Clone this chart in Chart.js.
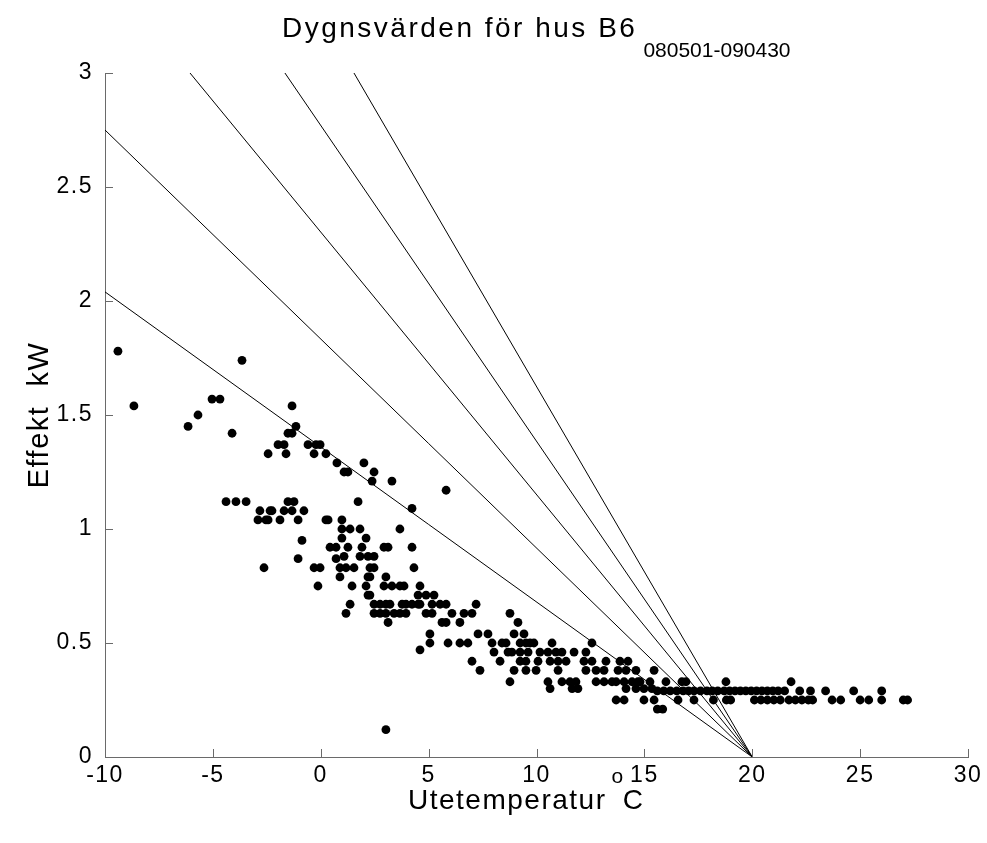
<!DOCTYPE html>
<html><head><meta charset="utf-8">
<script src="https://cdn.jsdelivr.net/npm/chart.js@4"></script>
<style>html,body{margin:0;padding:0;background:#fff}#wrap{width:987px;height:843px}</style>
</head><body><div id="wrap"><canvas id="c" width="987" height="843"></canvas></div>
<script>
const titleMain = 'Dygnsvärden för hus B6';
const titleSub = '080501-090430';
const xLabelMain = 'Utetemperatur';
const xLabelSup = 'o';
const xLabelUnit = 'C';
const yLabel = 'Effekt  kW';

const xTicks = [-10, -5, 0, 5, 10, 15, 20, 25, 30];
const yTicks = [0, 0.5, 1, 1.5, 2, 2.5, 3];

// daily mean outdoor temperature (°C)
const tempValues = [
 -9.40,-3.65,-8.66,-5.04,-4.67,-5.69,-6.15,-4.11,-1.33,-1.15,-1.52,-1.33,-1.98,-1.70,-2.44,-1.61,-0.59,-0.22,-0.03,-0.31,
 0.24,0.75,-4.39,-3.93,-3.46,-2.82,-2.35,-2.26,-1.70,-1.33,-0.78,-1.52,-1.24,-2.91,-2.54,-2.44,-1.89,-1.05,0.24,0.34,
 -0.87,-1.05,-2.63,-0.31,-0.03,0.43,0.71,0.71,1.08,1.26,2.00,2.47,2.38,3.30,5.81,1.73,4.23,0.98,0.98,1.36,
 1.82,3.67,0.98,2.10,1.26,1.91,2.93,3.12,4.23,1.08,1.82,2.19,2.47,0.89,1.17,1.54,2.28,2.47,4.32,0.89,
 2.19,2.28,3.02,-0.13,1.45,2.10,2.93,3.30,3.67,3.86,4.60,2.19,2.28,4.51,4.88,5.25,1.36,2.47,2.75,3.02,
 3.21,3.77,3.95,4.23,4.51,4.60,5.16,5.53,5.81,7.20,1.17,2.47,2.75,3.02,3.40,3.67,3.95,4.88,5.16,6.08,
 6.64,7.01,3.12,5.62,5.81,6.45,5.06,7.29,5.06,5.90,6.45,6.82,4.60,3.02,8.77,9.14,7.75,8.96,9.42,7.94,
 8.40,8.59,9.24,9.51,9.70,9.88,10.72,12.57,8.03,8.68,8.86,9.24,9.61,10.16,10.53,10.90,11.18,11.74,12.29,7.01,
 8.31,9.24,9.51,10.07,10.63,11.00,11.37,12.20,12.57,13.22,13.87,14.24,7.38,8.96,9.51,9.98,11.00,12.29,12.76,13.13,
 13.78,14.15,14.61,15.45,8.77,10.53,11.18,11.55,11.83,12.76,13.13,13.50,14.06,14.43,14.80,15.26,10.63,11.65,11.92,14.15,
 14.61,14.98,15.35,13.69,14.06,14.98,15.45,15.60,15.85,13.69,14.70,16.00,16.74,16.93,18.78,21.80,
 15.60,15.90,16.20,16.50,16.80,17.05,17.30,17.60,17.90,18.15,18.40,18.70,18.95,19.20,19.45,19.70,19.95,20.20,20.45,20.70,
 20.95,21.20,21.50,22.20,22.70,23.40,24.70,26.00,
 16.56,17.30,18.20,18.80,19.00,20.10,20.40,20.70,21.00,21.30,21.70,22.00,22.30,22.60,22.80,23.70,24.10,25.00,25.40,26.00,
 27.00,27.20
];
// daily mean heating power (kW)
const powerValues = [
 1.78,1.74,1.54,1.57,1.57,1.50,1.45,1.42,1.54,1.45,1.42,1.42,1.37,1.37,1.33,1.33,1.37,1.37,1.37,1.33,
 1.33,1.29,1.12,1.12,1.12,1.08,1.08,1.08,1.08,1.08,1.08,1.12,1.12,1.04,1.04,1.04,1.04,1.04,1.04,1.04,
 0.95,0.87,0.83,0.83,0.83,0.92,0.92,0.87,1.25,1.25,1.29,1.25,1.21,1.21,1.17,1.12,1.09,1.04,1.00,1.00,
 1.00,1.00,0.96,0.96,0.92,0.92,0.92,0.92,0.92,0.88,0.88,0.88,0.88,0.83,0.83,0.83,0.83,0.83,0.83,0.79,
 0.79,0.79,0.79,0.75,0.75,0.75,0.75,0.75,0.75,0.75,0.75,0.71,0.71,0.71,0.71,0.71,0.67,0.67,0.67,0.67,
 0.67,0.67,0.67,0.67,0.67,0.67,0.67,0.67,0.67,0.67,0.63,0.63,0.63,0.63,0.63,0.63,0.63,0.63,0.63,0.63,
 0.63,0.63,0.59,0.59,0.59,0.59,0.54,0.54,0.50,0.50,0.50,0.50,0.47,0.12,0.63,0.59,0.54,0.54,0.54,0.50,
 0.50,0.50,0.50,0.50,0.50,0.50,0.50,0.50,0.46,0.46,0.46,0.46,0.46,0.46,0.46,0.46,0.46,0.46,0.46,0.42,
 0.42,0.42,0.42,0.42,0.42,0.42,0.42,0.42,0.42,0.42,0.42,0.42,0.38,0.38,0.38,0.38,0.38,0.38,0.38,0.38,
 0.38,0.38,0.38,0.38,0.33,0.33,0.33,0.33,0.33,0.33,0.33,0.33,0.33,0.33,0.33,0.33,0.30,0.30,0.30,0.30,
 0.30,0.30,0.30,0.25,0.25,0.25,0.25,0.21,0.21,0.33,0.33,0.33,0.33,0.33,0.33,0.33,
 0.29,0.29,0.29,0.29,0.29,0.29,0.29,0.29,0.29,0.29,0.29,0.29,0.29,0.29,0.29,0.29,0.29,0.29,0.29,0.29,
 0.29,0.29,0.29,0.29,0.29,0.29,0.29,0.29,
 0.25,0.25,0.25,0.25,0.25,0.25,0.25,0.25,0.25,0.25,0.25,0.25,0.25,0.25,0.25,0.25,0.25,0.25,0.25,0.25,
 0.25,0.25
];

// reference lines: all meet at (20 °C, 0 kW)
const lineStartTemp = [-10, -10, -6.06, -1.66, 1.54];
const lineStartPower = [2.04, 2.75, 3, 3, 3];
const lineEndTemp = [20, 20, 20, 20, 20];
const lineEndPower = [0, 0, 0, 0, 0];

const FONT = '"Liberation Sans", Arial, Helvetica, sans-serif';

const scatterData = tempValues.map((t, i) => ({x: t, y: powerValues[i]}));
const lineDatasets = lineStartTemp.map((t, i) => ({
  type: 'line',
  data: [{x: t, y: lineStartPower[i]}, {x: lineEndTemp[i], y: lineEndPower[i]}],
  borderColor: '#000',
  borderWidth: 1,
  pointRadius: 0,
  fill: false,
  tension: 0,
  order: 2
}));

const spacing = {
  id: 'spacing',
  beforeDraw(chart) { chart.ctx.letterSpacing = '1.5px'; }
};

const innerTicks = {
  id: 'innerTicks',
  afterDatasetsDraw(chart) {
    const ctx = chart.ctx, xs = chart.scales.x, ys = chart.scales.y;
    const a = chart.chartArea;
    ctx.save();
    ctx.strokeStyle = '#6a6a6a';
    ctx.lineWidth = 1;
    ctx.beginPath();
    xTicks.forEach(v => {
      const p = Math.round(xs.getPixelForValue(v)) + 0.5;
      ctx.moveTo(p, a.bottom); ctx.lineTo(p, a.bottom - 8);
    });
    yTicks.forEach(v => {
      const p = Math.round(ys.getPixelForValue(v)) + 0.5;
      ctx.moveTo(a.left, p); ctx.lineTo(a.left + 8, p);
    });
    ctx.stroke();
    ctx.restore();
  }
};

const texts = {
  id: 'texts',
  afterDraw(chart) {
    const ctx = chart.ctx;
    ctx.save();
    ctx.fillStyle = '#000';
    ctx.textAlign = 'left';
    ctx.textBaseline = 'alphabetic';
    // title with subscript
    ctx.font = '28px ' + FONT;
    ctx.letterSpacing = '2.5px';
    ctx.fillText(titleMain, 282, 37);
    const w = ctx.measureText(titleMain).width;
    ctx.font = '21px ' + FONT;
    ctx.letterSpacing = '0px';
    ctx.fillText(titleSub, 282 + w + 6, 57);
    // x label with superscript
    ctx.font = '28px ' + FONT;
    ctx.letterSpacing = '1.5px';
    ctx.fillText(xLabelMain, 408, 809);
    const w2 = ctx.measureText(xLabelMain).width;
    ctx.font = '21px ' + FONT;
    ctx.fillText(xLabelSup, 408 + w2 + 5, 783);
    const w3 = ctx.measureText(xLabelSup).width;
    ctx.font = '28px ' + FONT;
    ctx.fillText(xLabelUnit, 408 + w2 + 5 + w3 - 2, 809);
    // y label
    ctx.translate(48, 415);
    ctx.rotate(-Math.PI / 2);
    ctx.textAlign = 'center';
    ctx.font = '29px ' + FONT;
    ctx.letterSpacing = '1.5px';
    ctx.fillText(yLabel, 0, 0);
    ctx.restore();
  }
};

new Chart(document.getElementById('c'), {
  type: 'scatter',
  data: {
    datasets: [{
      type: 'scatter',
      data: scatterData,
      backgroundColor: '#000',
      borderColor: '#000',
      borderWidth: 0,
      pointRadius: 4.4,
      pointHoverRadius: 4.4,
      order: 1
    }, ...lineDatasets]
  },
  options: {
    responsive: false,
    animation: false,
    events: [],
    layout: {padding: {top: 73, right: 19, bottom: 0, left: 0}},
    plugins: {legend: {display: false}, tooltip: {enabled: false}, title: {display: false}},
    scales: {
      x: {
        type: 'linear', min: -10, max: 30,
        afterBuildTicks(s) { s.ticks = xTicks.map(v => ({value: v})); },
        afterFit(s) { s.height = 86; },
        grid: {display: false, drawTicks: false},
        border: {display: true, color: '#6a6a6a', width: 1},
        ticks: {color: '#000', padding: 5, font: {family: FONT, size: 23}, maxRotation: 0,
                callback: v => String(v)}
      },
      y: {
        type: 'linear', min: 0, max: 3,
        afterBuildTicks(s) { s.ticks = yTicks.map(v => ({value: v})); },
        afterFit(s) { s.width = 105; },
        grid: {display: false, drawTicks: false},
        border: {display: true, color: '#6a6a6a', width: 1},
        ticks: {color: '#000', padding: 12, font: {family: FONT, size: 23},
                callback: v => String(v)}
      }
    }
  },
  plugins: [spacing, innerTicks, texts]
});
</script>
</body></html>
